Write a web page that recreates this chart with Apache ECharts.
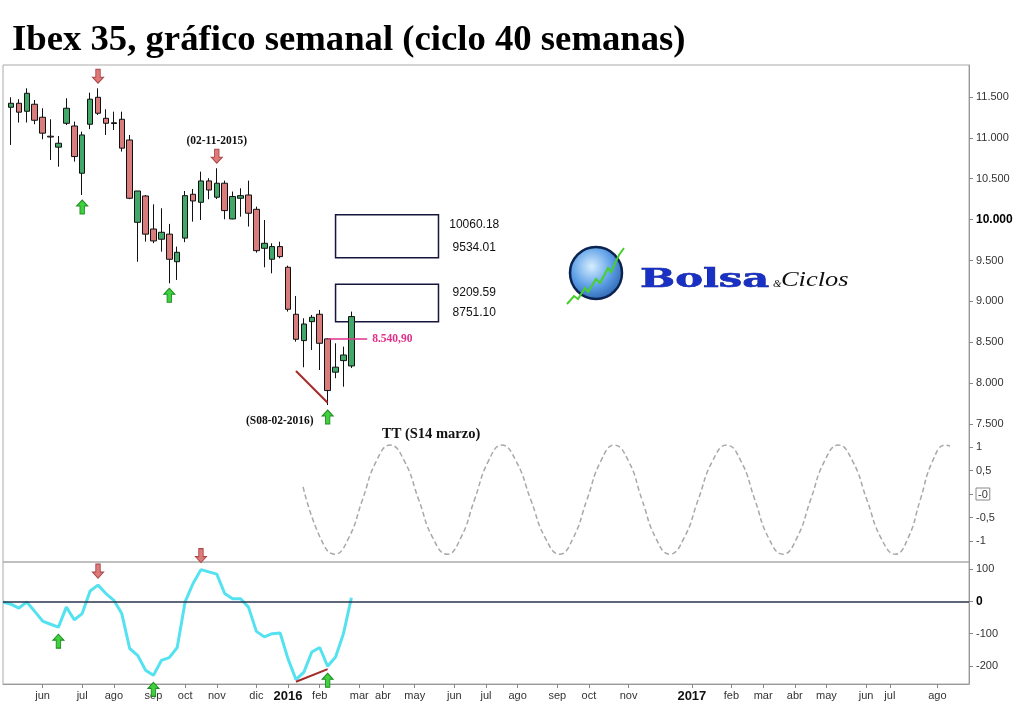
<!DOCTYPE html>
<html><head><meta charset="utf-8">
<script src="https://cdn.jsdelivr.net/npm/echarts@6/dist/echarts.min.js"></script>
<style>html,body{margin:0;padding:0;background:#fff}#c{width:1024px;height:707px}</style>
</head><body><div id="c"></div>
<script>
// ---------- DATA ----------
const firstWeek = '2015-04-27';
const weekCount = 123;
const firstCandleWeek = '2015-05-04';
// weekly candles: [open, close, low, high]
const candles = [
  [11374,11423,10913,11496],[11423,11314,11187,11473],[11325,11545,11187,11606],[11411,11215,11166,11463],
  [11252,11057,10983,11362],[11020,11010,10729,11227],[10886,10934,10647,11023],[11178,11362,11157,11484],
  [11145,10771,10709,11199],[10567,11035,10301,11076],[11166,11473,11106,11553],[11496,11301,11280,11606],
  [11239,11178,11035,11350],[11185,11175,11096,11320],[11227,10874,10832,11320],[10974,10261,10250,11035],
  [9967,10350,9485,10350],[10289,9822,9731,10301],[9885,9739,9712,10187],[9760,9845,9608,10139],
  [9822,9515,9221,9947],[9485,9600,9262,9670],[9774,10293,9724,10350],[10310,10228,9975,10375],
  [10212,10473,9995,10587],[10473,10362,10249,10506],[10274,10445,10252,10628],[10445,10110,10004,10477],
  [10008,10282,10004,10343],[10261,10293,10036,10383],[10301,10078,9915,10477],[10126,9620,9595,10159],
  [9649,9710,9417,9995],[9515,9670,9343,9710],[9670,9547,9527,9730],[9417,8903,8875,9437],
  [8842,8536,8507,9066],[8520,8723,8194,8793],[8752,8805,8405,8833],[8842,8487,8160,8895],
  [8541,7909,7732,8548],[8134,8195,8060,8487],[8275,8344,7956,8446],[8210,8814,8185,8875]
];
// weekly oscillator values from firstWeek
const oscillator = [
  -2,-9,-21,-2,-31,-61,-71,-80,-18,-57,-38,32,50,24,3,-38,-146,-167,-213,-229,
  -183,-174,-143,-2,55,98,91,84,24,8,8,-18,-93,-110,-100,-98,-178,-242,-219,-157,
  -143,-201,-172,-100,11
];
// projected 40-week cycle curve: [week number, value]
const cycleKnots = [
  [37.9,0.15],[40.1,-0.94],[41.9,-1.28],
  [43.65,-0.94],[45.4,-0.12],[47.15,0.70],[48.9,1.04],
  [50.7,0.70],[52.5,-0.12],[54.3,-0.94],[56.1,-1.28],
  [57.8,-0.94],[59.55,-0.12],[61.3,0.70],[63.0,1.04],
  [64.8,0.70],[66.65,-0.12],[68.5,-0.94],[70.3,-1.28],
  [72.0,-0.94],[73.75,-0.12],[75.5,0.70],[77.2,1.04],
  [79.0,0.70],[80.7,-0.12],[82.45,-0.94],[84.2,-1.28],
  [86.0,-0.94],[87.8,-0.12],[89.6,0.70],[91.4,1.04],
  [93.2,0.70],[94.95,-0.12],[96.7,-0.94],[98.5,-1.28],
  [100.25,-0.94],[102.0,-0.12],[103.75,0.70],[105.5,1.04],
  [107.3,0.70],[109.1,-0.12],[110.9,-0.94],[112.7,-1.28],
  [114.3,-0.94],[115.85,-0.12],[117.4,0.70],[119.0,1.04],[119.6,1.02]
];
const priceTicks = [11500,11000,10500,10000,9500,9000,8500,8000,7500];
const cycleTicks = [1,0.5,0,-0.5,-1];
const oscTicks = [100,0,-100,-200];
const monthLabels = [
  ['2015-06-01','jun'],['2015-07-06','jul'],['2015-08-03','ago'],['2015-09-07','sep'],['2015-10-05','oct'],
  ['2015-11-02','nov'],['2015-12-07','dic'],['2016-01-04','2016'],['2016-02-01','feb'],['2016-03-07','mar'],
  ['2016-03-28','abr'],['2016-04-25','may'],['2016-05-30','jun'],['2016-06-27','jul'],['2016-07-25','ago'],
  ['2016-08-29','sep'],['2016-09-26','oct'],['2016-10-31','nov'],['2016-12-26','2017'],['2017-01-30','feb'],
  ['2017-02-27','mar'],['2017-03-27','abr'],['2017-04-24','may'],['2017-05-29','jun'],['2017-06-19','jul'],
  ['2017-07-31','ago']
];
// target zones: [from week, to week, upper, lower]
const targetZones = [
  ['2016-02-15','2016-05-16',10060.18,9534.01],
  ['2016-02-15','2016-05-16',9209.59,8751.10]
];
const pivotLevel = ['2016-02-08','2016-03-14',8540.90,'8.540,90'];
// arrows on price: [week, direction, label]
const priceArrows = [
  ['2015-07-06','up',''],['2015-07-20','down',''],['2015-09-21','up',''],
  ['2015-11-02','down','(02-11-2015)'],['2016-02-08','up','(S08-02-2016)']
];
const oscArrows = [
  ['2015-06-15','up'],['2015-07-20','down'],['2015-09-07','up'],['2015-10-19','down'],['2016-02-08','up']
];
const priceTrend = [['2016-01-11',8148],['2016-02-08',7760]];
const oscTrend = [['2016-01-11',-249],['2016-02-08',-210]];

// ---------- BUILD ----------
function addDays(s,n){const d=new Date(s+'T00:00:00Z');d.setUTCDate(d.getUTCDate()+n);return d.toISOString().slice(0,10);}
const weeks = Array.from({length:weekCount},(_,j)=>addDays(firstWeek,7*j));
const candleRows = candles.map((c,i)=>[addDays(firstCandleWeek,7*i)].concat(c));
const candleByDate = {}; candleRows.forEach(r=>{candleByDate[r[0]]=r;});
const oscRows = oscillator.map((v,j)=>[weeks[j],v]);
const oscByDate = {}; oscRows.forEach(r=>{oscByDate[r[0]]=r[1];});
const labelMap = new Map(monthLabels);

const GREEN='#41a86a', RED='#d87c7c';
const UP='path://M5,0L10,6L7,6L7,14L3,14L3,6L0,6Z';
const DOWN='path://M3,0L7,0L7,8L10,8L5,14L0,8L3,8Z';
const serifBold = {fontFamily:'Liberation Serif',fontWeight:'bold',color:'#111',fontSize:11.5};

function arrowPoint(date,dir,value,off,text,labelPos){
  const up = dir==='up';
  const p = {
    coord:[date,value], symbol: up?UP:DOWN, symbolSize:[11,14], symbolOffset:[0, up?off:-off],
    itemStyle:{color: up?'#3ed23e':'#e07a7a', borderColor: up?'#238a23':'#a84848', borderWidth:1},
    label:{show:false}
  };
  if(text){
    p.label = Object.assign({show:true, formatter:text}, serifBold, labelPos);
  }
  return p;
}
const priceMarks = priceArrows.map(a=>{
  const r=candleByDate[a[0]];
  const up=a[1]==='up';
  const pos = a[2]==='(S08-02-2016)' ? {position:'left',distance:8,offset:[0,4]} : {position:'top',distance:2};
  return arrowPoint(a[0],a[1], up?r[3]:r[4], 12, a[2], pos);
});
const oscMarks = oscArrows.map(a=>arrowPoint(a[0],a[1],oscByDate[a[0]],14,'',null));

const fmtThousands = v => String(v).replace(/\B(?=(\d{3})+(?!\d))/g,'.');
const axisFont = {fontFamily:'Liberation Sans',fontSize:11,color:'#333'};
const tickStyle = {show:true,length:4,lineStyle:{color:'#888'}};

const option = {
  animation:false,
  backgroundColor:'#fff',
  title:[
    {text:'Ibex 35, gráfico semanal (ciclo 40 semanas)', left:7, top:17,
     textStyle:{fontFamily:'Liberation Serif',fontWeight:'bold',fontSize:36.7,color:'#000'}},
    {text:'TT (S14 marzo)', left:377, top:422,
     textStyle:{fontFamily:'Liberation Serif',fontWeight:'bold',fontSize:14.5,color:'#111'}}
  ],
  grid:[
    {left:3,right:55,top:65,height:497,show:true,borderColor:'#aaa',borderWidth:1},
    {left:3,right:55,top:440,height:120},
    {left:3,right:55,top:562,height:122,show:true,borderColor:'#aaa',borderWidth:1}
  ],
  xAxis:[
    {gridIndex:0,type:'category',data:weeks,boundaryGap:false,show:false},
    {gridIndex:1,type:'value',min:0,max:weekCount-1,show:false},
    {gridIndex:2,type:'category',data:weeks,boundaryGap:false,position:'bottom',
     axisLine:{show:true,onZero:false,lineStyle:{color:'#999'}},
     axisTick:{show:true,length:4,lineStyle:{color:'#888'},interval:(i,v)=>labelMap.has(v)},
     axisLabel:Object.assign({interval:(i,v)=>labelMap.has(v),margin:6,
       formatter:v=>{const t=labelMap.get(v)||'';return /^\d{4}$/.test(t)?'{y|'+t+'}':t;},
       rich:{y:{fontFamily:'Liberation Sans',fontWeight:'bold',fontSize:13,color:'#111'}}},axisFont),
     splitLine:{show:false}}
  ],
  yAxis:[
    {gridIndex:0,type:'value',position:'right',min:5812,max:11891,
     axisLine:{show:true,onZero:false,lineStyle:{color:'#999'}},
     axisTick:Object.assign({customValues:priceTicks},tickStyle),
     axisLabel:Object.assign({customValues:priceTicks,margin:7,
       formatter:v=>v===10000?'{b|'+fmtThousands(v)+'}':fmtThousands(v),
       rich:{b:{fontFamily:'Liberation Sans',fontWeight:'bold',fontSize:12,color:'#000'}}},axisFont),
     splitLine:{show:false}},
    {gridIndex:1,type:'value',position:'right',min:-1.404,max:1.149,
     axisLine:{show:false,onZero:false},
     axisTick:Object.assign({customValues:cycleTicks},tickStyle),
     axisLabel:Object.assign({customValues:cycleTicks,margin:7,
       formatter:v=>v===0?'{box|-0}':String(v).replace('.',','),
       rich:{box:{fontFamily:'Liberation Sans',fontSize:11,color:'#333',borderColor:'#888',borderWidth:1,padding:[1,2,0,2]}}},axisFont),
     splitLine:{show:false}},
    {gridIndex:2,type:'value',position:'right',min:-255.8,max:121.6,
     axisLine:{show:true,onZero:false,lineStyle:{color:'#999'}},
     axisTick:Object.assign({customValues:oscTicks},tickStyle),
     axisLabel:Object.assign({customValues:oscTicks,margin:7,
       formatter:v=>v===0?'{b|0}':String(v),
       rich:{b:{fontFamily:'Liberation Sans',fontWeight:'bold',fontSize:12,color:'#000'}}},axisFont),
     splitLine:{show:false}}
  ],
  series:[
    {type:'candlestick',xAxisIndex:0,yAxisIndex:0,data:candleRows,
     encode:{x:0,y:[1,2,3,4]},barWidth:6,
     itemStyle:{color:GREEN,color0:RED,borderColor:'#111',borderColor0:'#111',borderWidth:1},
     markPoint:{silent:true,data:priceMarks},
     markLine:{silent:true,symbol:['none','none'],
       data:[
         [{coord:priceTrend[0]},{coord:priceTrend[1]}],
         [{coord:[pivotLevel[0],pivotLevel[2]],
           lineStyle:{color:'#e0308a',width:1.5,type:'solid'},
           label:Object.assign({show:true,position:'end',formatter:pivotLevel[3],distance:5},serifBold,{color:'#e0308a'})},
          {coord:[pivotLevel[1],pivotLevel[2]]}]
       ],
       lineStyle:{color:'#a52a2a',width:2,type:'solid'},label:{show:false}},
     markArea:{silent:true,
       itemStyle:{color:'rgba(0,0,0,0)',borderColor:'#15153d',borderWidth:1.5},
       data:targetZones.map((z,k)=>[
         {coord:[z[0],z[2]],
          label:{show:true,position:'right',distance:8,
            formatter:'{a|'+z[2].toFixed(2)+'}\n{a|'+z[3].toFixed(2)+'}',
            rich:{a:{width:54,align:'center',fontFamily:'Liberation Sans',fontSize:12,color:'#111',lineHeight:k===0?23:20}}}},
         {coord:[z[1],z[3]]}
       ])}
    },
    {type:'line',xAxisIndex:1,yAxisIndex:1,data:cycleKnots,smooth:0.5,showSymbol:false,
     lineStyle:{color:'#a8a8a8',width:1.5,type:[5,3]},silent:true},
    {type:'line',xAxisIndex:2,yAxisIndex:2,data:oscRows,showSymbol:false,
     lineStyle:{color:'#55e2f0',width:3},silent:true,z:3,
     markPoint:{silent:true,data:oscMarks},
     markLine:{silent:true,symbol:['none','none'],label:{show:false},
       data:[
         [{yAxis:0,x:3,lineStyle:{color:'#2a3450',width:1.5,type:'solid'}},{yAxis:0,x:969}],
         [{coord:oscTrend[0],lineStyle:{color:'#a52a2a',width:2,type:'solid'}},{coord:oscTrend[1]}]
       ]}}
  ],
  graphic:[
    {type:'circle',shape:{cx:596,cy:273,r:26},z:10,
     style:{fill:new echarts.graphic.RadialGradient(0.42,0.38,0.75,[{offset:0,color:'#d6eeff'},{offset:0.5,color:'#5d9fe6'},{offset:1,color:'#1b4c9a'}]),stroke:'#0b2350',lineWidth:2.5}},
    {type:'polyline',z:11,shape:{points:[[567,304],[574,296],[578,299],[585,288],[588,292],[596,279],[600,283],[608,268],[611,272],[619,255],[624,248]]},
     style:{stroke:'#45d02a',lineWidth:2,fill:null}},
    {type:'text',x:640,y:280,z:11,scaleX:1.6,
     style:{text:'Bolsa',fontFamily:'DejaVu Serif',fontWeight:'bold',fontSize:26,fill:'#1830c4',stroke:'#0a1a80',lineWidth:0.6,verticalAlign:'middle'}},
    {type:'text',x:773,y:284,z:11,
     style:{text:'&',fontFamily:'Liberation Serif',fontStyle:'italic',fontSize:11,fill:'#111',verticalAlign:'middle'}},
    {type:'text',x:781,y:280,z:11,scaleX:1.2,
     style:{text:'Ciclos',fontFamily:'Liberation Serif',fontStyle:'italic',fontSize:22,fill:'#111',verticalAlign:'middle'}}
  ]
};
const chart = echarts.init(document.getElementById('c'),null,{renderer:'canvas'});
chart.setOption(option);
</script></body></html>
